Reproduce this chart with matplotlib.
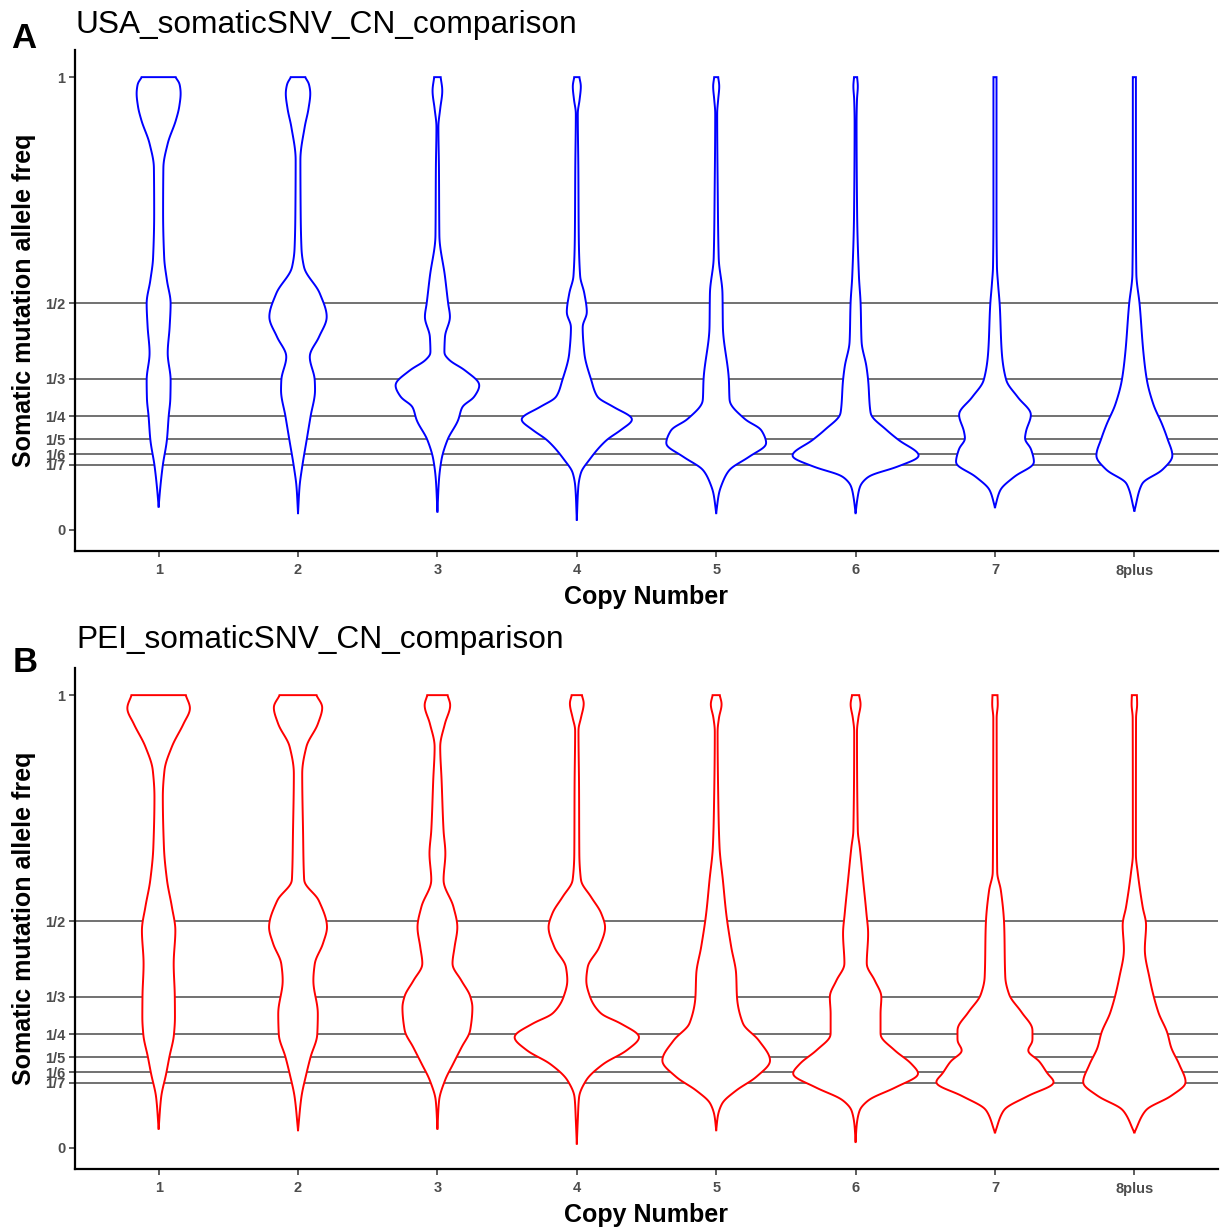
import numpy as np
import matplotlib
matplotlib.use('Agg')
import matplotlib.pyplot as plt

plt.rcParams['font.family'] = ['Liberation Sans', 'DejaVu Sans']

# Categories and axis ticks
copy_numbers = ['1', '2', '3', '4', '5', '6', '7', '8plus']
freq_ticks = [0, 1/7, 1/6, 1/5, 1/4, 1/3, 1/2, 1]
freq_tick_labels = ['0', '1/7', '1/6', '1/5', '1/4', '1/3', '1/2', '1']
ref_lines = [1/2, 1/3, 1/4, 1/5, 1/6, 1/7]

# Violin outlines: (allele freq, half-width in category units)
usa_cn1 = [(1.0, 0.120), (0.985, 0.150), (0.964, 0.158), (0.935, 0.148), (0.905, 0.124), (0.853, 0.065),
           (0.80, 0.034), (0.70, 0.032), (0.60, 0.040), (0.55, 0.060), (0.50, 0.086), (0.448, 0.079),
           (0.39, 0.065), (0.33, 0.086), (0.29, 0.084), (0.25, 0.072), (0.20, 0.060), (0.14, 0.029),
           (0.09, 0.011), (0.05, 0.0)]
usa_cn2 = [(1.0, 0.050), (0.985, 0.078), (0.964, 0.088), (0.93, 0.075), (0.89, 0.048), (0.817, 0.017),
           (0.70, 0.019), (0.62, 0.025), (0.58, 0.043), (0.522, 0.156), (0.47, 0.206), (0.426, 0.151),
           (0.382, 0.084), (0.33, 0.120), (0.308, 0.122), (0.25, 0.090), (0.198, 0.062), (0.139, 0.030),
           (0.095, 0.011), (0.036, 0.0)]
usa_cn3 = [(1.0, 0.023), (0.97, 0.035), (0.93, 0.020), (0.89, 0.007), (0.80, 0.011), (0.65, 0.014),
           (0.56, 0.054), (0.50, 0.077), (0.47, 0.090), (0.426, 0.054), (0.39, 0.050), (0.375, 0.084),
           (0.352, 0.197), (0.319, 0.301), (0.293, 0.263), (0.271, 0.179), (0.242, 0.149), (0.198, 0.072),
           (0.154, 0.029), (0.109, 0.011), (0.039, 0.0)]
usa_cn4 = [(1.0, 0.018), (0.98, 0.029), (0.95, 0.020), (0.92, 0.007), (0.80, 0.011), (0.65, 0.014),
           (0.56, 0.024), (0.522, 0.054), (0.48, 0.072), (0.448, 0.042), (0.39, 0.054), (0.33, 0.104),
           (0.293, 0.149), (0.271, 0.263), (0.2435, 0.398), (0.22, 0.316), (0.198, 0.215), (0.154, 0.090),
           (0.125, 0.029), (0.095, 0.011), (0.021, 0.0)]
usa_cn5 = [(1.0, 0.014), (0.98, 0.022), (0.95, 0.014), (0.92, 0.007), (0.75, 0.011), (0.60, 0.018),
           (0.522, 0.045), (0.448, 0.048), (0.33, 0.091), (0.286, 0.096), (0.2435, 0.208), (0.22, 0.323),
           (0.19, 0.359), (0.161, 0.237), (0.131, 0.093), (0.102, 0.043), (0.08, 0.020), (0.036, 0.0)]
usa_cn6 = [(1.0, 0.011), (0.98, 0.016), (0.95, 0.010), (0.90, 0.007), (0.70, 0.011), (0.56, 0.024),
           (0.50, 0.036), (0.415, 0.043), (0.36, 0.078), (0.33, 0.090), (0.257, 0.108), (0.22, 0.222),
           (0.198, 0.308), (0.163, 0.455), (0.139, 0.301), (0.117, 0.093), (0.095, 0.032), (0.07, 0.014),
           (0.036, 0.0)]
usa_cn7 = [(1.0, 0.011), (0.95, 0.011), (0.70, 0.011), (0.582, 0.014), (0.543, 0.022), (0.497, 0.034),
           (0.391, 0.049), (0.33, 0.081), (0.292, 0.165), (0.254, 0.258), (0.216, 0.222), (0.201, 0.215),
           (0.178, 0.258), (0.148, 0.280), (0.117, 0.140), (0.087, 0.038), (0.049, 0.0)]
usa_cn8 = [(1.0, 0.011), (0.95, 0.011), (0.70, 0.011), (0.566, 0.014), (0.497, 0.038), (0.391, 0.065),
           (0.33, 0.090), (0.277, 0.136), (0.231, 0.201), (0.201, 0.237), (0.163, 0.273), (0.132, 0.201),
           (0.102, 0.057), (0.041, 0.0)]

pei_cn1 = [(1.0, 0.194), (0.971, 0.225), (0.937, 0.179), (0.886, 0.095), (0.834, 0.042), (0.775, 0.030),
           (0.664, 0.038), (0.591, 0.060), (0.532, 0.095), (0.48, 0.120), (0.406, 0.108), (0.333, 0.116),
           (0.288, 0.117), (0.25, 0.110), (0.20, 0.077), (0.163, 0.054), (0.111, 0.018), (0.041, 0.0)]
pei_cn2 = [(1.0, 0.131), (0.973, 0.174), (0.937, 0.143), (0.886, 0.060), (0.827, 0.030), (0.70, 0.036),
           (0.591, 0.044), (0.546, 0.149), (0.487, 0.208), (0.451, 0.179), (0.406, 0.120), (0.369, 0.110),
           (0.296, 0.142), (0.25, 0.138), (0.20, 0.090), (0.163, 0.060), (0.111, 0.024), (0.038, 0.0)]
pei_cn3 = [(1.0, 0.072), (0.978, 0.092), (0.937, 0.054), (0.886, 0.020), (0.812, 0.030), (0.701, 0.044),
           (0.65, 0.057), (0.591, 0.044), (0.532, 0.115), (0.487, 0.143), (0.443, 0.123), (0.406, 0.108),
           (0.369, 0.172), (0.333, 0.237), (0.31, 0.251), (0.259, 0.235), (0.222, 0.174), (0.185, 0.113),
           (0.148, 0.054), (0.104, 0.012), (0.041, 0.0)]
pei_cn4 = [(1.0, 0.036), (0.982, 0.050), (0.95, 0.030), (0.923, 0.012), (0.80, 0.016), (0.65, 0.018),
           (0.591, 0.030), (0.554, 0.102), (0.517, 0.176), (0.487, 0.203), (0.443, 0.161), (0.399, 0.078),
           (0.369, 0.068), (0.333, 0.095), (0.296, 0.174), (0.274, 0.316), (0.244, 0.448), (0.215, 0.359),
           (0.185, 0.192), (0.148, 0.066), (0.111, 0.016), (0.06, 0.007), (0.008, 0.0)]
pei_cn5 = [(1.0, 0.025), (0.98, 0.039), (0.95, 0.020), (0.92, 0.010), (0.75, 0.016), (0.664, 0.024),
           (0.591, 0.048), (0.517, 0.072), (0.443, 0.108), (0.384, 0.143), (0.333, 0.149), (0.274, 0.192),
           (0.237, 0.305), (0.192, 0.387), (0.156, 0.287), (0.126, 0.143), (0.097, 0.042), (0.07, 0.012),
           (0.038, 0.0)]
pei_cn6 = [(1.0, 0.025), (0.98, 0.036), (0.95, 0.020), (0.92, 0.010), (0.70, 0.016), (0.664, 0.030),
           (0.591, 0.054), (0.517, 0.078), (0.473, 0.090), (0.406, 0.080), (0.369, 0.138), (0.333, 0.185),
           (0.296, 0.179), (0.25, 0.179), (0.215, 0.280), (0.185, 0.400), (0.163, 0.450), (0.133, 0.287),
           (0.104, 0.090), (0.082, 0.029), (0.05, 0.008), (0.012, 0.0)]
pei_cn7 = [(1.0, 0.018), (0.98, 0.020), (0.95, 0.012), (0.70, 0.014), (0.608, 0.016), (0.569, 0.042),
           (0.492, 0.066), (0.376, 0.074), (0.338, 0.102), (0.299, 0.191), (0.260, 0.269), (0.237, 0.269),
           (0.214, 0.237), (0.191, 0.316), (0.164, 0.376), (0.144, 0.423), (0.114, 0.237), (0.083, 0.065),
           (0.033, 0.0)]
pei_cn8 = [(1.0, 0.018), (0.98, 0.020), (0.95, 0.012), (0.70, 0.011), (0.647, 0.011), (0.608, 0.024),
           (0.531, 0.060), (0.492, 0.084), (0.438, 0.075), (0.376, 0.108), (0.299, 0.172), (0.253, 0.237),
           (0.222, 0.263), (0.183, 0.323), (0.144, 0.368), (0.114, 0.263), (0.083, 0.084), (0.033, 0.0)]

usa_profiles = [usa_cn1, usa_cn2, usa_cn3, usa_cn4, usa_cn5, usa_cn6, usa_cn7, usa_cn8]
pei_profiles = [pei_cn1, pei_cn2, pei_cn3, pei_cn4, pei_cn5, pei_cn6, pei_cn7, pei_cn8]


def pchip(x, y, xn):
    # monotone cubic through the read points, so the outline has no corners
    h = np.diff(x)
    d = np.diff(y) / h
    m = np.zeros_like(y)
    m[0], m[-1] = d[0], d[-1]
    for k in range(1, len(x) - 1):
        if d[k - 1] * d[k] > 0:
            w1 = 2 * h[k] + h[k - 1]
            w2 = h[k] + 2 * h[k - 1]
            m[k] = (w1 + w2) / (w1 / d[k - 1] + w2 / d[k])
    idx = np.clip(np.searchsorted(x, xn) - 1, 0, len(x) - 2)
    t = (xn - x[idx]) / h[idx]
    h00 = 2 * t**3 - 3 * t**2 + 1
    h10 = t**3 - 2 * t**2 + t
    h01 = -2 * t**3 + 3 * t**2
    h11 = t**3 - t**2
    return h00 * y[idx] + h10 * h[idx] * m[idx] + h01 * y[idx + 1] + h11 * h[idx] * m[idx + 1]


def draw_violin(ax, pos, profile, color):
    prof = np.array(sorted(profile))
    yv, hw = prof[:, 0], prof[:, 1]
    yy = np.linspace(yv[0], yv[-1], 1200)
    ww = np.clip(pchip(yv, hw, yy), 0, None)
    # a light blur takes out the remaining kinks at the knots
    k = np.exp(-0.5 * (np.arange(-15, 16) / 4.0) ** 2)
    k /= k.sum()
    ww = np.convolve(np.pad(ww, 15, mode='edge'), k, mode='valid')
    xs = np.concatenate([pos - ww, (pos + ww)[::-1]])
    ys = np.concatenate([yy, yy[::-1]])
    ax.fill(xs, ys, facecolor='white', edgecolor=color, lw=1.4, zorder=3)


def draw_panel(ax, profiles, color):
    for f in ref_lines:
        ax.axhline(f, color='#4a4a4a', lw=1.1, zorder=1)
    for i, prof in enumerate(profiles):
        draw_violin(ax, i + 1, prof, color)

    ax.set_xlim(0.4, 8.6)
    ax.set_ylim(-0.0475, 1.06)
    ax.set_xticks(range(1, len(copy_numbers) + 1))
    ax.set_xticklabels(copy_numbers, fontweight='bold')
    ax.set_yticks(freq_ticks)
    ax.set_yticklabels(freq_tick_labels, fontweight='bold')
    ax.tick_params(length=4, width=1.1, color='#333333', labelcolor='#4d4d4d',
                   labelsize=10.5, pad=3)
    ax.tick_params(axis='x', pad=5)
    for s in ['top', 'right']:
        ax.spines[s].set_visible(False)
    for s in ['left', 'bottom']:
        ax.spines[s].set_linewidth(1.6)
        ax.spines[s].set_color('black')
    ax.set_xlabel('Copy Number', fontsize=18, fontweight='bold')
    ax.set_ylabel('Somatic mutation allele freq', fontsize=18, fontweight='bold')
    ax.xaxis.set_label_coords(0.5, -0.067)
    ax.yaxis.set_label_coords(-0.034, 0.5)


W, H = 1221, 1229
fig = plt.figure(figsize=(W / 100, H / 100), dpi=100)

ax1 = fig.add_axes([75 / W, 1 - 551 / H, 1143 / W, 501 / H])
ax2 = fig.add_axes([75 / W, 1 - 1169 / H, 1143 / W, 501 / H])

draw_panel(ax1, usa_profiles, '#0000ff')
draw_panel(ax2, pei_profiles, '#ff0000')

# Panel titles and letters
fig.text(76 / W, 1 - 33 / H, 'USA_somaticSNV_CN_comparison', fontsize=22.8, va='baseline', ha='left')
fig.text(76 / W, 1 - 648 / H, 'PEI_somaticSNV_CN_comparison', fontsize=22.8, va='baseline', ha='left')
fig.text(11 / W, 1 - 48 / H, 'A', fontsize=25, fontweight='bold', va='baseline', ha='left')
fig.text(13 / W, 1 - 672 / H, 'B', fontsize=25, fontweight='bold', va='baseline', ha='left')

fig.savefig('out.png', dpi=100)
